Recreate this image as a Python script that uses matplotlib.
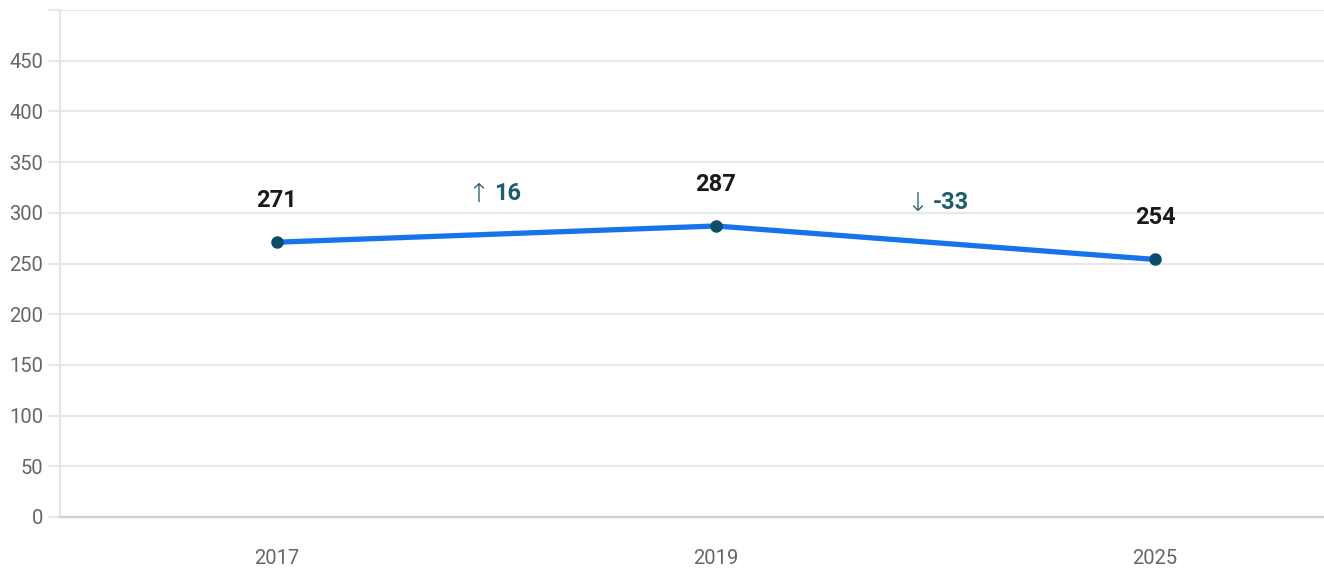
import matplotlib
matplotlib.use("Agg")
import matplotlib.pyplot as plt
from matplotlib import font_manager

years = ["2017", "2019", "2025"]
values = [271, 287, 254]
y_ticks = [0, 50, 100, 150, 200, 250, 300, 350, 400, 450, 500]
y_labels = ["0", "50", "100", "150", "200", "250", "300", "350", "400", "450", ""]


def pick_font(names):
    installed = {f.name for f in font_manager.fontManager.ttflist}
    for n in names:
        if n in installed:
            return n
    return "DejaVu Sans"


narrow = pick_font(["Liberation Sans Narrow", "DejaVu Sans Condensed", "Roboto", "Liberation Sans"])
plt.rcParams["font.family"] = [narrow, "DejaVu Sans"]

fig = plt.figure(figsize=(13.24, 5.73), dpi=100)
ax = fig.add_axes([60 / 1324, 56 / 573, 1264 / 1324, 507 / 573])

x = list(range(len(years)))

# grid + axes styling
ax.set_ylim(0, 500)
ax.set_xlim(-0.494, 2.385)
ax.set_yticks(y_ticks)
ax.set_yticklabels(y_labels)
ax.set_xticks(x)
ax.set_xticklabels(years)
ax.grid(axis="y", color="#e8e8e8", linewidth=1.6, zorder=0)
ax.tick_params(axis="y", length=8.6, width=1.6, color="#e8e8e8", pad=3.5,
               labelsize=14.5, labelcolor="#666666")
ax.tick_params(axis="x", length=0, pad=23, labelsize=14.5, labelcolor="#666666")
for s in ["top", "right"]:
    ax.spines[s].set_visible(False)
ax.spines["left"].set_color("#e0e0e0")
ax.spines["left"].set_linewidth(1.2)
ax.spines["bottom"].set_color("#d0d0d0")
ax.spines["bottom"].set_linewidth(1.6)

# main line
ax.plot(x, values, color="#1673ec", linewidth=3.8, solid_capstyle="round", zorder=3)
ax.plot(x, values, linestyle="none", marker="o", markersize=8,
        color="#0c4d6a", zorder=4)

# value labels
for xi, v in zip(x, values):
    ax.annotate(str(v), (xi, v), xytext=(0, 30), textcoords="offset points",
                ha="center", va="center", fontsize=17, fontweight="bold",
                color="#1a1a1a")

# change labels between points
for i in range(len(values) - 1):
    d = values[i + 1] - values[i]
    arrow = "\u2191" if d > 0 else "\u2193"
    mx = (x[i] + x[i + 1]) / 2
    my = (values[i] + values[i + 1]) / 2
    ax.annotate(arrow, (mx, my), xytext=(-5, 28), textcoords="offset points",
                ha="right", va="center", fontsize=19, fontweight="light",
                color="#1f5c70")
    ax.annotate(str(d), (mx, my), xytext=(-2, 29), textcoords="offset points",
                ha="left", va="center", fontsize=17, fontweight="bold",
                color="#1f5c70")

fig.savefig("out.png", dpi=100)
